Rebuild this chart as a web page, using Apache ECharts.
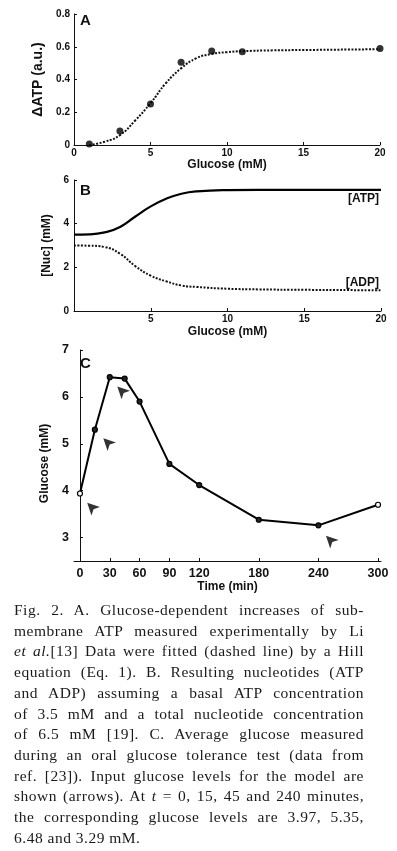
<!DOCTYPE html>
<html style="height: 100%">
    <head>
        <meta charset="utf-8">
        <style>
            body { margin: 0; background: #fff; }
            #container { position: absolute; left: 0; top: 0; width: 397px; height: 851px; }
            #caption {
                position: absolute; left: 14px; top: 600px; width: 350px;
                font-family: "Liberation Serif", serif; font-size: 15.5px; line-height: 20.7px; color: #1a1a1a;
                letter-spacing: 0.5px;
            }
            #caption div { text-align: justify; text-align-last: justify; white-space: nowrap; }
            #caption div.last { text-align-last: left; }
        </style>
    </head>
    <body>
        <div id="container"></div>
        <div id="caption">
            <div>Fig. 2. A. Glucose-dependent increases of sub-</div>
            <div>membrane ATP measured experimentally by Li</div>
            <div><i>et al.</i>[13] Data were fitted (dashed line) by a Hill</div>
            <div>equation (Eq. 1). B. Resulting nucleotides (ATP</div>
            <div>and ADP) assuming a basal ATP concentration</div>
            <div>of 3.5 mM and a total nucleotide concentration</div>
            <div>of 6.5 mM [19]. C. Average glucose measured</div>
            <div>during an oral glucose tolerance test (data from</div>
            <div>ref. [23]). Input glucose levels for the model are</div>
            <div>shown (arrows). At <i>t</i> = 0, 15, 45 and 240 minutes,</div>
            <div>the corresponding glucose levels are 3.97, 5.35,</div>
            <div class="last">6.48 and 3.29 mM.</div>
        </div>

        <script type="text/javascript" src="https://cdn.jsdelivr.net/npm/echarts@6/dist/echarts.min.js"></script>

        <script type="text/javascript">
// panel A: measured points and fitted curve
var atpGlucose = [1, 3, 5, 7, 9, 11, 20];
var atpMeasured = [0.006, 0.086, 0.25, 0.505, 0.574, 0.57, 0.589];
var fitGlucose = [1, 2, 3, 4, 5, 6, 7, 8, 9, 10, 11, 13, 15, 20];
var fitValues = [0, 0.02, 0.06, 0.15, 0.255, 0.377, 0.468, 0.53, 0.556, 0.567, 0.573, 0.578, 0.58, 0.585];

// panel B: nucleotides
var nucGlucose = [0, 1, 2, 3, 4, 5, 6, 7, 8, 10, 12, 15, 20];
var atpConc = [3.5, 3.51, 3.6, 3.85, 4.33, 4.79, 5.14, 5.37, 5.48, 5.54, 5.55, 5.55, 5.55];
var adpConc = [3.0, 2.99, 2.93, 2.62, 2.05, 1.62, 1.36, 1.17, 1.1, 1.02, 0.99, 0.97, 0.95];

// panel C: OGTT
var ogttTime = [0, 15, 30, 45, 60, 90, 120, 180, 240, 300];
var ogttGlucose = [3.94, 5.3, 6.42, 6.39, 5.9, 4.57, 4.12, 3.38, 3.26, 3.7];
var openPoints = [0, 300];
var arrowTime = [7.3, 23.5, 37.6, 247.6];
var arrowGlucose = [3.74, 5.12, 6.22, 3.04];
var timeTicks = [0, 30, 60, 90, 120, 180, 240, 300];

var dom = document.getElementById("container");
var myChart = echarts.init(dom);

var font = 'Liberation Sans';
function axisBase(fs) {
  return {
    axisLine: { show: true, lineStyle: { color: '#111', width: 1 } },
    axisTick: { show: true, inside: true, length: 3, lineStyle: { color: '#111' } },
    splitLine: { show: false },
    axisLabel: { fontFamily: font, fontWeight: 'bold', fontSize: fs, color: '#111' },
    nameTextStyle: { fontFamily: font, fontWeight: 'bold', fontSize: 12, color: '#111' },
    nameLocation: 'middle'
  };
}
function merge(a, b) {
  var o = {};
  for (var k in a) o[k] = a[k];
  for (var k2 in b) {
    if (o[k2] && typeof o[k2] === 'object' && !Array.isArray(o[k2]) && typeof b[k2] === 'object' && !Array.isArray(b[k2])) {
      o[k2] = merge(o[k2], b[k2]);
    } else {
      o[k2] = b[k2];
    }
  }
  return o;
}
function zip(xs, ys) {
  return xs.map(function (x, i) { return [x, ys[i]]; });
}
var tagStyle = { fontFamily: font, fontWeight: 'bold', fontSize: 12, color: '#111' };

var option = {
  animation: false,
  title: [
    { text: 'A', left: 80, top: 13, padding: 0, textStyle: { fontFamily: font, fontWeight: 'bold', fontSize: 15, color: '#111' } },
    { text: 'B', left: 80, top: 183, padding: 0, textStyle: { fontFamily: font, fontWeight: 'bold', fontSize: 15, color: '#111' } },
    { text: 'C', left: 80, top: 356, padding: 0, textStyle: { fontFamily: font, fontWeight: 'bold', fontSize: 15, color: '#111' } }
  ],
  grid: [
    { left: 74, top: 14, width: 306, height: 131 },
    { left: 74, top: 180, width: 307, height: 131 },
    { left: 74, top: 350, width: 307, height: 211 }
  ],
  xAxis: [
    merge(axisBase(10), { gridIndex: 0, type: 'value', min: 0, max: 20, interval: 5, name: 'Glucose (mM)', nameGap: 14,
      axisLabel: { margin: 3 } }),
    merge(axisBase(10), { gridIndex: 1, type: 'value', min: 0, max: 20, interval: 5, name: 'Glucose (mM)', nameGap: 15,
      axisLabel: { margin: 3, customValues: [5, 10, 15, 20] }, axisTick: { customValues: [5, 10, 15, 20] } }),
    merge(axisBase(12.5), { gridIndex: 2, type: 'value', min: -6, max: 303, name: 'Time (min)', nameGap: 20,
      axisLabel: { margin: 6, customValues: timeTicks }, axisTick: { customValues: timeTicks } })
  ],
  yAxis: [
    merge(axisBase(10), { gridIndex: 0, type: 'value', min: 0, max: 0.8, interval: 0.2, name: 'ΔATP (a.u.)', nameGap: 15,
      nameTextStyle: { fontSize: 14 },
      axisLabel: { margin: 4, formatter: function (v) { return v === 0 ? '0' : v.toFixed(1); } } }),
    merge(axisBase(10), { gridIndex: 1, type: 'value', min: 0, max: 6, interval: 2, name: '[Nuc] (mM)', nameGap: 19,
      axisLabel: { margin: 5 } }),
    merge(axisBase(12.5), { gridIndex: 2, type: 'value', min: 2.5, max: 7, name: 'Glucose (mM)', nameGap: 17,
      nameTextStyle: { padding: [0, 16, 0, 0] },
      axisLabel: { margin: 5, customValues: [3, 4, 5, 6, 7] }, axisTick: { customValues: [3, 4, 5, 6, 7] } })
  ],
  series: [
    {
      type: 'line', xAxisIndex: 0, yAxisIndex: 0, data: zip(fitGlucose, fitValues),
      smooth: true, symbol: 'none', lineStyle: { color: '#111', width: 2, type: [2, 1.5] }, z: 2
    },
    {
      type: 'scatter', xAxisIndex: 0, yAxisIndex: 0, data: zip(atpGlucose, atpMeasured),
      symbol: 'circle', symbolSize: 7, itemStyle: { color: '#000' }, z: 3
    },
    {
      type: 'line', xAxisIndex: 1, yAxisIndex: 1, smooth: true, symbol: 'none',
      data: zip(nucGlucose, atpConc),
      lineStyle: { color: '#000', width: 2.2 },
      endLabel: merge(tagStyle, { show: true, formatter: '[ATP]', distance: 0, align: 'right', verticalAlign: 'top', offset: [-2, 3] })
    },
    {
      type: 'line', xAxisIndex: 1, yAxisIndex: 1, smooth: true, symbol: 'none',
      data: zip(nucGlucose, adpConc),
      lineStyle: { color: '#111', width: 2, type: [2, 1.5] },
      endLabel: merge(tagStyle, { show: true, formatter: '[ADP]', distance: 0, align: 'right', verticalAlign: 'bottom', offset: [-2, -2] })
    },
    {
      type: 'line', xAxisIndex: 2, yAxisIndex: 2,
      data: ogttTime.map(function (t, i) {
        var open = openPoints.indexOf(t) >= 0;
        return { value: [t, ogttGlucose[i]], itemStyle: { color: open ? '#fff' : '#222' } };
      }),
      symbol: 'circle', symbolSize: 5, showAllSymbol: true,
      itemStyle: { borderColor: '#000', borderWidth: 1.2 },
      lineStyle: { color: '#000', width: 2 }
    },
    {
      type: 'scatter', xAxisIndex: 2, yAxisIndex: 2, data: zip(arrowTime, arrowGlucose),
      symbol: 'arrow', symbolSize: [9, 12], symbolRotate: 45, itemStyle: { color: '#000' }
    }
  ]
};

myChart.setOption(option);
        </script>
    </body>
</html>
